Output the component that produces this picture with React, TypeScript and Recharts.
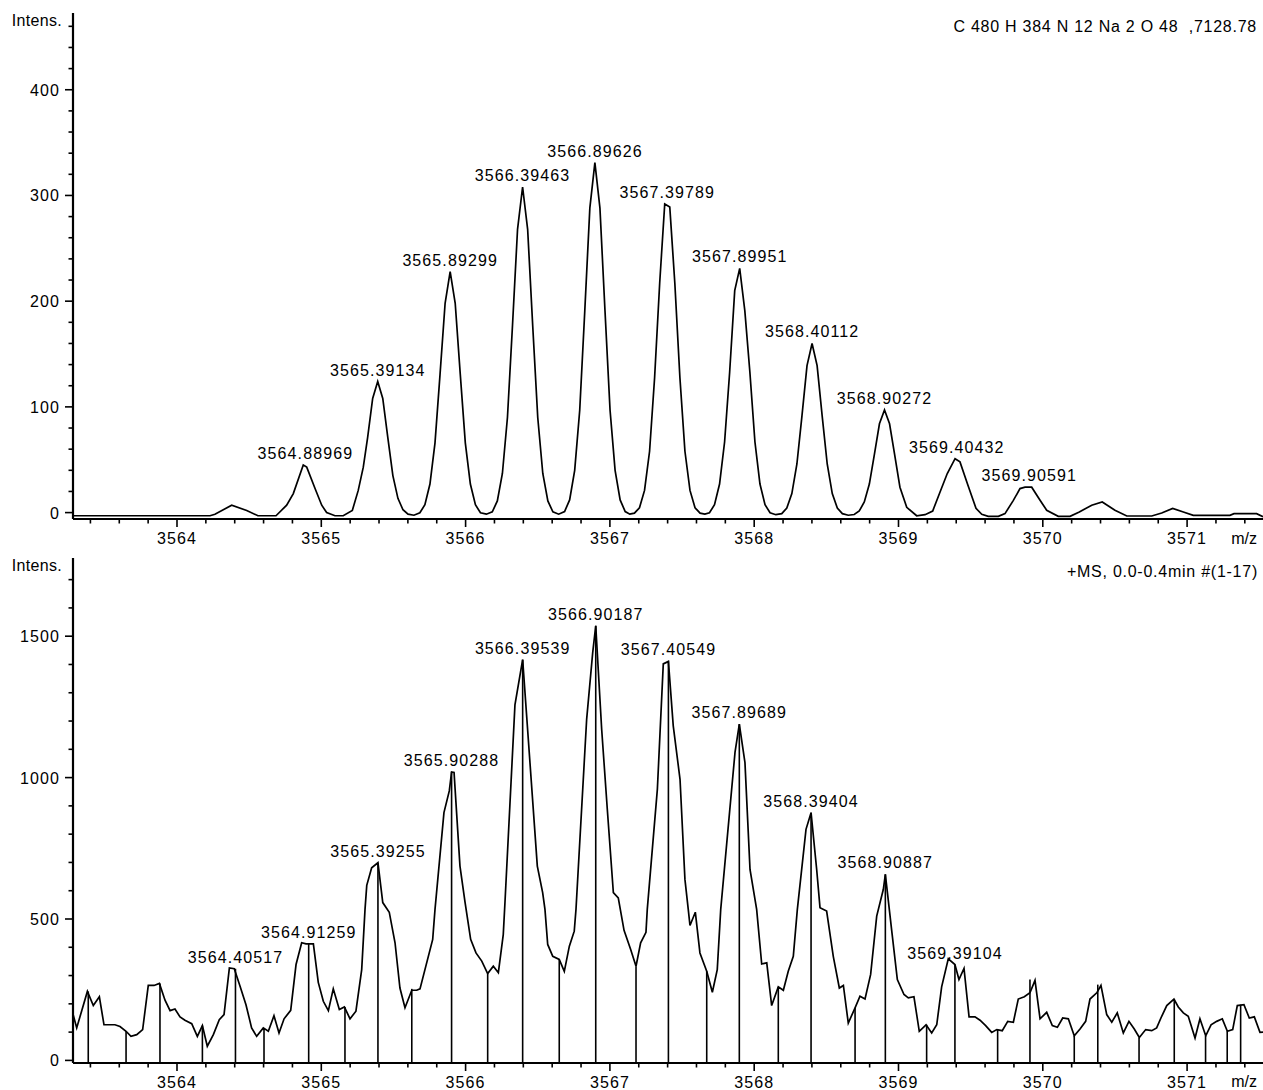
import React from 'react';
import { ComposedChart, Line, XAxis, YAxis, Scatter, ReferenceLine } from 'recharts';

const FONT = '"Liberation Sans", Arial, Helvetica, sans-serif';

// ---- axes ----
const mzDomain: [number, number] = [3563.2793, 3571.526];
const mzMajorTicks = [3564, 3565, 3566, 3567, 3568, 3569, 3570, 3571];
const mzMinorTicks = [3563.4, 3563.6, 3563.8, 3564.2, 3564.4, 3564.6, 3564.8, 3565.2, 3565.4, 3565.6, 3565.8,
  3566.2, 3566.4, 3566.6, 3566.8, 3567.2, 3567.4, 3567.6, 3567.8, 3568.2, 3568.4, 3568.6, 3568.8,
  3569.2, 3569.4, 3569.6, 3569.8, 3570.2, 3570.4, 3570.6, 3570.8, 3571.2, 3571.4];

const topYDomain: [number, number] = [-6.06, 472.6];
const topYMajor = [0, 100, 200, 300, 400];
const topYMinor = [20, 40, 60, 80, 120, 140, 160, 180, 220, 240, 260, 280, 320, 340, 360, 380, 420, 440, 460];

const bottomYDomain: [number, number] = [-9.2, 1776.5];
const bottomYMajor = [0, 500, 1000, 1500];
const bottomYMinor = [100, 200, 300, 400, 600, 700, 800, 900, 1100, 1200, 1300, 1400, 1600, 1700];

// ---- texts ----
const yAxisTitle = 'Intens.';
const xAxisTitle = 'm/z';
const topCaption = 'C 480 H 384 N 12 Na 2 O 48  ,7128.78';
const bottomCaption = '+MS, 0.0-0.4min #(1-17)';

// ---- simulated isotope pattern [m/z, intensity] ----
const simulatedProfile: [number, number][] = [
  [3563.279, -3], [3564.229, -3], [3564.263, -1.6], [3564.379, 7], [3564.483, 2], [3564.561, -3],
  [3564.686, -3], [3564.760, 7], [3564.806, 18], [3564.875, 45], [3564.899, 43], [3564.956, 23],
  [3565.003, 7], [3565.037, 0], [3565.095, -3], [3565.152, -3], [3565.215, 2], [3565.256, 21],
  [3565.291, 43], [3565.321, 71], [3565.356, 108], [3565.391, 124], [3565.426, 108], [3565.461, 71],
  [3565.496, 35], [3565.531, 13.5], [3565.566, 2.7], [3565.601, -1.5], [3565.642, -2.5],
  [3565.683, -0.2], [3565.718, 7.4], [3565.753, 27], [3565.788, 66], [3565.823, 131], [3565.858, 198],
  [3565.893, 228], [3565.928, 198], [3565.963, 131], [3565.998, 66], [3566.033, 27], [3566.068, 7.4],
  [3566.103, -0.2], [3566.144, -1.5],
  [3566.185, 0.7], [3566.220, 11], [3566.255, 37], [3566.290, 90], [3566.325, 177], [3566.360, 268],
  [3566.395, 308], [3566.430, 268], [3566.465, 177], [3566.500, 90], [3566.535, 37], [3566.570, 11],
  [3566.605, 0.7], [3566.645, -1.5],
  [3566.686, 1], [3566.721, 12], [3566.756, 40], [3566.791, 97], [3566.826, 191], [3566.861, 288],
  [3566.896, 331], [3566.931, 288], [3566.966, 191], [3567.001, 97], [3567.036, 40], [3567.071, 12],
  [3567.106, 1], [3567.138, -1.5],
  [3567.170, -0.5], [3567.205, 4.6], [3567.240, 21], [3567.275, 58], [3567.310, 128], [3567.345, 217],
  [3567.380, 292], [3567.415, 289], [3567.450, 217], [3567.485, 128], [3567.520, 58], [3567.555, 21],
  [3567.590, 4.6], [3567.625, -0.5], [3567.658, -1.5],
  [3567.690, -0.2], [3567.725, 7.5], [3567.760, 27], [3567.795, 67], [3567.830, 133], [3567.865, 210],
  [3567.8995, 231], [3567.935, 191], [3567.970, 133], [3568.005, 67], [3568.040, 27], [3568.075, 7.5],
  [3568.110, -0.2], [3568.150, -2],
  [3568.191, -1], [3568.226, 4.3], [3568.261, 18], [3568.296, 46], [3568.331, 91.5], [3568.366, 139],
  [3568.401, 160], [3568.436, 139], [3568.471, 91.5], [3568.506, 46], [3568.541, 18], [3568.576, 4.3],
  [3568.611, -1], [3568.652, -2.5],
  [3568.693, -1.8], [3568.728, 1.5], [3568.763, 10], [3568.798, 27], [3568.833, 55], [3568.868, 84],
  [3568.903, 97], [3568.938, 84], [3568.973, 55], [3569.010, 24], [3569.057, 5], [3569.126, -3],
  [3569.184, -2], [3569.237, 1.5], [3569.288, 19.5], [3569.338, 37], [3569.392, 51], [3569.426, 48],
  [3569.477, 27.5], [3569.537, 4], [3569.577, -1.6], [3569.622, -3.5], [3569.692, -3.5], [3569.738, -1],
  [3569.796, 11.6], [3569.842, 22.7], [3569.877, 24], [3569.923, 24], [3569.981, 11.6], [3570.027, 2.2],
  [3570.107, -3.5], [3570.189, -3.5], [3570.253, 0.6], [3570.339, 7], [3570.412, 10], [3570.500, 2.2],
  [3570.582, -3.2], [3570.755, -3.2], [3570.824, -0.4], [3570.900, 4], [3570.974, 0.6], [3571.043, -2.6],
  [3571.297, -2.6], [3571.325, -1], [3571.482, -1], [3571.526, -4],
];

// labelled maxima of the simulated pattern [m/z, intensity]
const simulatedPeaks: [number, number][] = [
  [3564.88969, 45], [3565.39134, 124], [3565.89299, 228], [3566.39463, 308], [3566.89626, 331],
  [3567.39789, 292], [3567.89951, 231], [3568.40112, 160], [3568.90272, 97], [3569.40432, 51],
  [3569.90591, 24],
];

// ---- measured spectrum [m/z, intensity] ----
const measuredProfile: [number, number][] = [
  [3563.277, 168], [3563.305, 115], [3563.379, 244], [3563.420, 194], [3563.462, 225], [3563.494, 126],
  [3563.570, 126], [3563.605, 120], [3563.647, 103], [3563.681, 85], [3563.721, 91], [3563.762, 109],
  [3563.801, 265], [3563.841, 265], [3563.878, 272], [3563.917, 213], [3563.952, 176], [3563.986, 182],
  [3564.021, 154], [3564.055, 142], [3564.102, 130], [3564.141, 85], [3564.176, 123], [3564.210, 50],
  [3564.252, 91], [3564.293, 144], [3564.326, 162], [3564.363, 327], [3564.397, 324], [3564.437, 262],
  [3564.478, 197], [3564.517, 115], [3564.552, 85], [3564.598, 115], [3564.633, 103], [3564.672, 158],
  [3564.707, 97], [3564.742, 147], [3564.788, 177], [3564.825, 339], [3564.864, 416], [3564.894, 412],
  [3564.945, 412], [3564.979, 276], [3565.014, 209], [3565.049, 176], [3565.083, 253], [3565.125, 180],
  [3565.160, 189], [3565.199, 147], [3565.240, 174], [3565.280, 321], [3565.303, 534], [3565.315, 619],
  [3565.349, 681], [3565.3926, 699], [3565.426, 558], [3565.471, 524], [3565.511, 416], [3565.545, 256],
  [3565.580, 186], [3565.627, 248], [3565.661, 248], [3565.684, 253], [3565.772, 428], [3565.788, 534],
  [3565.850, 876], [3565.887, 953], [3565.9029, 1020], [3565.920, 1018], [3565.961, 687], [3565.996, 560],
  [3566.035, 428], [3566.072, 380], [3566.112, 351], [3566.153, 307], [3566.192, 333], [3566.227, 310],
  [3566.261, 445], [3566.273, 560], [3566.342, 1257], [3566.3954, 1417], [3566.497, 687], [3566.534, 593],
  [3566.550, 534], [3566.569, 410], [3566.604, 368], [3566.649, 357], [3566.684, 315], [3566.719, 404],
  [3566.753, 457], [3566.765, 534], [3566.839, 1207], [3566.881, 1443], [3566.9019, 1537], [3566.943, 1171],
  [3566.982, 888], [3567.024, 593], [3567.058, 575], [3567.098, 460], [3567.144, 392], [3567.181, 333],
  [3567.213, 416], [3567.250, 453], [3567.259, 534], [3567.329, 959], [3567.370, 1402], [3567.4055, 1411],
  [3567.439, 1183], [3567.486, 994], [3567.520, 640], [3567.543, 534], [3567.555, 477], [3567.592, 524],
  [3567.624, 380], [3567.671, 315], [3567.710, 241], [3567.744, 321], [3567.768, 534], [3567.867, 1089],
  [3567.8969, 1189], [3567.936, 1053], [3567.971, 675], [3568.017, 534], [3568.052, 341], [3568.087, 345],
  [3568.121, 194], [3568.167, 260], [3568.202, 248], [3568.236, 315], [3568.271, 368], [3568.299, 534],
  [3568.359, 817], [3568.3940, 876], [3568.433, 675], [3568.456, 540], [3568.502, 528], [3568.548, 368],
  [3568.590, 256], [3568.618, 265], [3568.652, 132], [3568.699, 186], [3568.733, 227], [3568.768, 217],
  [3568.807, 304], [3568.849, 510], [3568.895, 605], [3568.9089, 658], [3568.955, 450], [3568.992, 286],
  [3569.038, 233], [3569.068, 221], [3569.107, 225], [3569.144, 103], [3569.191, 126], [3569.230, 97],
  [3569.265, 126], [3569.299, 260], [3569.345, 359], [3569.391, 339], [3569.419, 286], [3569.454, 325],
  [3569.489, 154], [3569.530, 154], [3569.565, 142], [3569.604, 123], [3569.646, 99], [3569.681, 109],
  [3569.719, 105], [3569.757, 138], [3569.796, 135], [3569.830, 217], [3569.872, 225], [3569.911, 239],
  [3569.946, 283], [3569.981, 147], [3570.027, 170], [3570.066, 123], [3570.101, 117], [3570.138, 150],
  [3570.177, 147], [3570.218, 87], [3570.258, 111], [3570.297, 138], [3570.327, 217], [3570.374, 239],
  [3570.403, 265], [3570.443, 162], [3570.478, 135], [3570.516, 168], [3570.558, 97], [3570.597, 138],
  [3570.634, 111], [3570.669, 81], [3570.713, 109], [3570.755, 105], [3570.789, 115], [3570.824, 156],
  [3570.859, 194], [3570.909, 217], [3570.939, 189], [3570.974, 168], [3571.008, 156], [3571.055, 79],
  [3571.089, 147], [3571.129, 87], [3571.166, 126], [3571.205, 138], [3571.244, 147], [3571.279, 103],
  [3571.316, 109], [3571.348, 194], [3571.394, 197], [3571.431, 150], [3571.466, 154], [3571.505, 99],
  [3571.526, 100],
];

// centroid sticks [m/z, intensity]
const measuredCentroids: [number, number][] = [
  [3563.385, 244], [3563.647, 103], [3563.882, 272], [3564.176, 123], [3564.40517, 324], [3564.603, 115],
  [3564.91259, 412], [3565.164, 189], [3565.39255, 699], [3565.627, 253], [3565.90288, 1020],
  [3566.153, 307], [3566.39539, 1417], [3566.649, 357], [3566.90187, 1537], [3567.181, 333],
  [3567.40549, 1411], [3567.671, 315], [3567.89689, 1189], [3568.167, 260], [3568.39404, 876],
  [3568.699, 186], [3568.90887, 658], [3569.195, 126], [3569.39104, 339], [3569.687, 109],
  [3569.911, 286], [3570.218, 87], [3570.381, 268], [3570.667, 81], [3570.911, 217], [3571.128, 87],
  [3571.278, 103], [3571.371, 197],
];

// labelled centroids [m/z, intensity]
const measuredPeaks: [number, number][] = [
  [3564.40517, 324], [3564.91259, 412], [3565.39255, 699], [3565.90288, 1020], [3566.39539, 1417],
  [3566.90187, 1537], [3567.40549, 1411], [3567.89689, 1189], [3568.39404, 876], [3568.90887, 658],
  [3569.39104, 339],
];

const toRows = (pairs: [number, number][]) => pairs.map(([mz, v]) => ({ mz, v }));
const toLabelRows = (pairs: [number, number][]) => pairs.map(([mz, v]) => ({ mz, v, label: mz.toFixed(5) }));

const W = 1263;
const TEXT_STYLE = { fontFamily: FONT, fontSize: 16, fill: '#000' };

const MzTick = (props: any) => {
  const { x, y, payload } = props;
  const major = mzMajorTicks.includes(payload.value);
  return (
    <g>
      <line x1={x} x2={x} y1={y} y2={y + (major ? 8 : 4.5)} stroke="#000" strokeWidth={1.6} />
      {major && (
        <text x={x} y={y + 24.5} textAnchor="middle" {...TEXT_STYLE} letterSpacing={1.1}>
          {payload.value}
        </text>
      )}
    </g>
  );
};

const makeYTick = (majors: number[]) => (props: any) => {
  const { x, y, payload } = props;
  const major = majors.includes(payload.value);
  return (
    <g>
      <line x1={x} x2={x - (major ? 8 : 4.5)} y1={y} y2={y} stroke="#000" strokeWidth={1.6} />
      {major && (
        <text x={x - 13} y={y + 6} textAnchor="end" {...TEXT_STYLE} letterSpacing={1.1}>
          {payload.value}
        </text>
      )}
    </g>
  );
};

const PeakLabel = (props: any) => {
  const { cx, cy, payload } = props;
  if (cx == null || cy == null) return null;
  return (
    <text x={cx} y={cy - 6} textAnchor="middle" {...TEXT_STYLE} letterSpacing={1.1}>
      {payload.label}
    </text>
  );
};

const axisLine = { stroke: '#000', strokeWidth: 2.2 };

type PanelProps = {
  height: number;
  xAxisHeight: number;
  yDomain: [number, number];
  yMajor: number[];
  yMinor: number[];
  profile: [number, number][];
  peaks: [number, number][];
  centroids?: [number, number][];
};

const Panel = ({ height, xAxisHeight, yDomain, yMajor, yMinor, profile, peaks, centroids }: PanelProps) => {
  const rows = toRows(profile);
  const labelRows = toLabelRows(peaks);
  const yTicks = [...yMajor, ...yMinor].sort((a, b) => a - b);
  const xTicks = [...mzMajorTicks, ...mzMinorTicks].sort((a, b) => a - b);
  const YTick = makeYTick(yMajor);
  return (
    <ComposedChart width={W} height={height} data={rows} margin={{ top: 13, right: 0, bottom: 0, left: 0 }}>
      <XAxis
        dataKey="mz"
        type="number"
        domain={mzDomain}
        allowDataOverflow
        ticks={xTicks}
        interval={0}
        tick={<MzTick />}
        tickLine={false}
        tickSize={0}
        tickMargin={0}
        height={xAxisHeight}
        axisLine={axisLine}
      />
      <XAxis
        xAxisId="frame"
        orientation="top"
        type="number"
        domain={mzDomain}
        allowDataOverflow
        height={0}
        tick={false}
        tickLine={false}
        axisLine={axisLine}
      />
      <YAxis
        type="number"
        domain={yDomain}
        allowDataOverflow
        ticks={yTicks}
        interval={0}
        tick={<YTick />}
        tickLine={false}
        tickSize={0}
        tickMargin={0}
        width={73}
        axisLine={axisLine}
      />
      {centroids &&
        centroids.map(([mz, v], i) => (
          <ReferenceLine
            key={i}
            segment={[{ x: mz, y: yDomain[0] }, { x: mz, y: v }]}
            stroke="#000"
            strokeWidth={1.6}
            ifOverflow="visible"
          />
        ))}
      <Line
        type="linear"
        dataKey="v"
        stroke="#000"
        strokeWidth={1.7}
        dot={false}
        activeDot={false}
        isAnimationActive={false}
      />
      <Scatter data={labelRows} dataKey="v" shape={<PeakLabel />} isAnimationActive={false} />
    </ComposedChart>
  );
};

export default function App() {
  return (
    <div style={{ position: 'absolute', left: 0, top: 0, width: W, height: 1090, background: '#fff', overflow: 'hidden' }}>
      <div style={{ position: 'absolute', left: 0, top: 0 }}>
        <Panel
          height={548}
          xAxisHeight={29}
          yDomain={topYDomain}
          yMajor={topYMajor}
          yMinor={topYMinor}
          profile={simulatedProfile}
          peaks={simulatedPeaks}
        />
      </div>
      <div style={{ position: 'absolute', left: 0, top: 545 }}>
        <Panel
          height={545}
          xAxisHeight={27}
          yDomain={bottomYDomain}
          yMajor={bottomYMajor}
          yMinor={bottomYMinor}
          profile={measuredProfile}
          peaks={measuredPeaks}
          centroids={measuredCentroids}
        />
      </div>
      <svg width={W} height={1090} style={{ position: 'absolute', left: 0, top: 0, pointerEvents: 'none' }}>
        <text x={62} y={26} textAnchor="end" {...TEXT_STYLE} letterSpacing={0.3}>{yAxisTitle}</text>
        <text x={62} y={571} textAnchor="end" {...TEXT_STYLE} letterSpacing={0.3}>{yAxisTitle}</text>
        <text x={1257} y={543.5} textAnchor="end" {...TEXT_STYLE}>{xAxisTitle}</text>
        <text x={1257} y={1087} textAnchor="end" {...TEXT_STYLE}>{xAxisTitle}</text>
        <text x={1257} y={31.5} textAnchor="end" {...TEXT_STYLE} letterSpacing={0.75} style={{ whiteSpace: 'pre' }}>{topCaption}</text>
        <text x={1258} y={577} textAnchor="end" {...TEXT_STYLE} letterSpacing={0.75}>{bottomCaption}</text>
      </svg>
    </div>
  );
}
